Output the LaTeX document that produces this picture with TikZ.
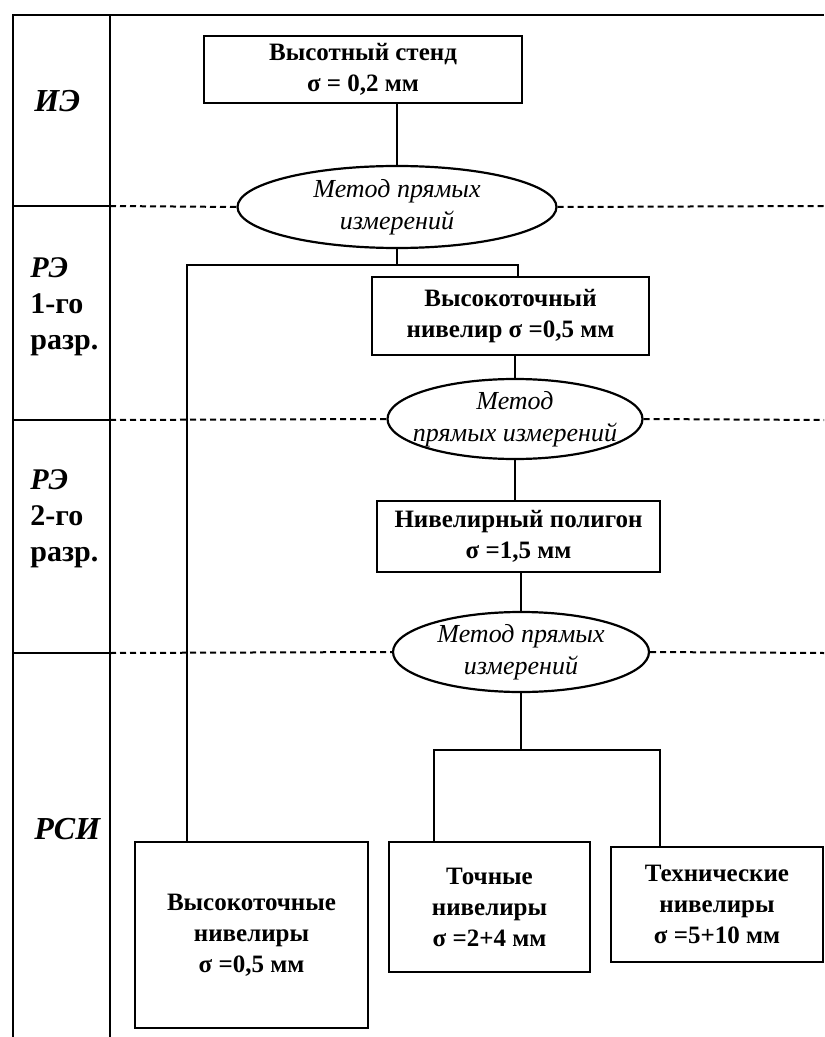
\documentclass[tikz,border=0pt]{standalone}
\usepackage{fontspec}
\setmainfont{Liberation Serif}
\usetikzlibrary{shapes.geometric,positioning}

\begin{document}
\begin{tikzpicture}[x=0.5pt, y=-0.5pt,
    box/.style={draw, line width=1.3pt, rectangle, align=center, inner sep=0pt,
      font=\fontsize{12.5}{15.5}\selectfont\bfseries},
    method/.style={draw, line width=1.1pt, ellipse, inner sep=0pt},
    mtext/.style={align=center, inner sep=0pt, font=\fontsize{13}{16}\selectfont\itshape},
    level/.style={anchor=north west, align=left, inner sep=0pt,
      font=\fontsize{15}{18}\selectfont\bfseries},
    frame/.style={line width=1.3pt},
    link/.style={line width=1.1pt},
    border/.style={line width=1pt, dash pattern=on 3pt off 2pt}]

    \useasboundingbox (0,0) rectangle (824,1037);

    % Frame
    \draw[frame] (13,1037) -- (13,15) -- (824,15);
    \draw[frame] (110,15) -- (110,1037);

    % Levels
    \node[level, anchor=west, font=\fontsize{16}{18}\selectfont\bfseries] (IE) at (34,101) {\textit{ИЭ}};
    \node[level] (RE1) at (30,257) {\textit{РЭ}\\1-го\\разр.};
    \node[level] (RE2) at (30,469) {\textit{РЭ}\\2-го\\разр.};
    \node[level, anchor=west, font=\fontsize{16}{18}\selectfont\bfseries] (RSI) at (34,829) {\textit{РСИ}};

    % Standards and instruments
    \node[box, minimum width=159pt, minimum height=33.5pt] (Stand) at (363,69.5)
      {Высотный стенд\\σ = 0,2 мм};
    \node[box, minimum width=138.5pt, minimum height=39pt] (Hi1) at (510.5,316)
      {Высокоточный\\нивелир σ =0,5 мм};
    \node[box, minimum width=141.5pt, minimum height=35.5pt] (Poly) at (518.5,536.5)
      {Нивелирный полигон\\σ =1,5 мм};
    \node[box, minimum width=116.5pt, minimum height=93pt] (HiN) at (251.5,935)
      {Высокоточные\\нивелиры\\σ =0,5 мм};
    \node[box, minimum width=100.5pt, minimum height=65pt] (Acc) at (489.5,907)
      {Точные\\нивелиры\\σ =2+4 мм};
    \node[box, minimum width=106pt, minimum height=57.5pt] (Tech) at (717,904.5)
      {Технические\\нивелиры\\σ =5+10 мм};

    % Methods
    \node[method, minimum width=159.5pt, minimum height=41pt] (M1) at (397,207) {};
    \node[mtext] (M1t) at (M1) {Метод прямых\\измерений};
    \node[method, minimum width=127.5pt, minimum height=40pt] (M2) at (515,419) {};
    \node[mtext] (M2t) at (M2) {Метод\\прямых измерений};
    \node[method, minimum width=128pt, minimum height=40pt] (M3) at (521,652) {};
    \node[mtext] (M3t) at (M3) {Метод прямых\\измерений};

    % Level borders
    \foreach \y/\m in {206/M1, 420/M2, 653/M3} {
      \draw[frame] (13,\y) -- (110,\y);
      \draw[border] (110,\y) -- (\m.west);
      \draw[border] (\m.east) -- (824,\y);
    }

    % Branch points
    \coordinate (B1) at (187,265);
    \coordinate (B2) at (518,265);
    \coordinate (B3) at (434,750);
    \coordinate (B4) at (660,750);

    % Links
    \draw[link] (M1.north |- Stand.south) -- (M1.north);
    \draw[link] (M1.south) -- (M1.south |- B1);
    \draw[link] (B1 |- HiN.north) -- (B1) -- (B2) -- (B2 |- Hi1.north);
    \draw[link] (M2.north |- Hi1.south) -- (M2.north);
    \draw[link] (M2.south) -- (M2.south |- Poly.north);
    \draw[link] (M3.north |- Poly.south) -- (M3.north);
    \draw[link] (M3.south) -- (M3.south |- B3);
    \draw[link] (B3 |- Acc.north) -- (B3) -- (B4) -- (B4 |- Tech.north);

\end{tikzpicture}
\end{document}
